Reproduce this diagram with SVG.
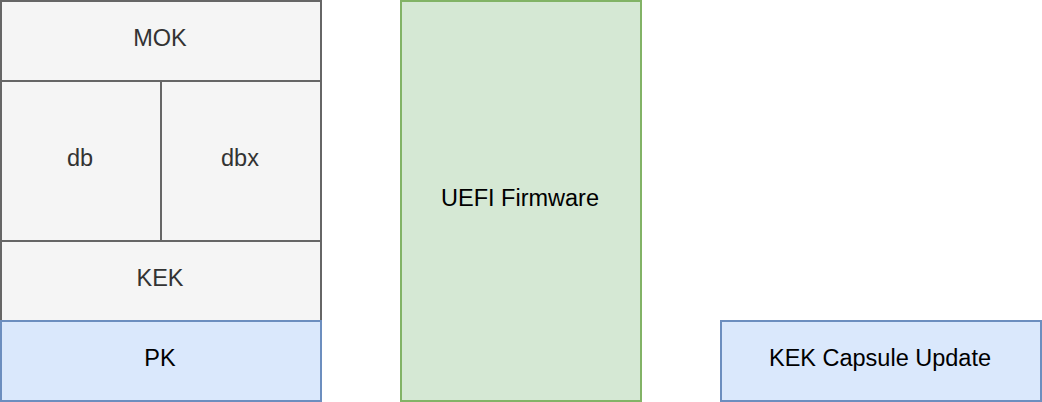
<svg xmlns="http://www.w3.org/2000/svg" width="1042" height="402" viewBox="0 0 1042 402">
<style>
.gray{fill:#f5f5f5;stroke:#666666;stroke-width:2}
.blue{fill:#dae8fc;stroke:#6c8ebf;stroke-width:2}
.green{fill:#d5e8d4;stroke:#82b366;stroke-width:2}
text{font-family:"Liberation Sans",Arial,Helvetica,sans-serif;font-size:23.5px;text-anchor:middle}
.tg{fill:#333333}
.tb{fill:#000000}
</style>
<rect width="1042" height="402" fill="#ffffff"/>
<g id="MOK"><rect class="gray" x="1" y="1" width="320" height="80"/><text class="tg" x="160" y="46">MOK</text></g>
<g id="db"><rect class="gray" x="1" y="81" width="160" height="160"/><text class="tg" x="80" y="166">db</text></g>
<g id="dbx"><rect class="gray" x="161" y="81" width="160" height="160"/><text class="tg" x="240" y="166">dbx</text></g>
<g id="KEK"><rect class="gray" x="1" y="241" width="320" height="80"/><text class="tg" x="160" y="286">KEK</text></g>
<g id="PK"><rect class="blue" x="1" y="321" width="320" height="80"/><text class="tb" x="160" y="366">PK</text></g>
<g id="UEFI"><rect class="green" x="401" y="1" width="240" height="400"/><text class="tb" x="520" y="206">UEFI Firmware</text></g>
<g id="KEKCapsule"><rect class="blue" x="721" y="321" width="320" height="80"/><text class="tb" x="880" y="366">KEK Capsule Update</text></g>
<g id="connectors"></g>
</svg>
